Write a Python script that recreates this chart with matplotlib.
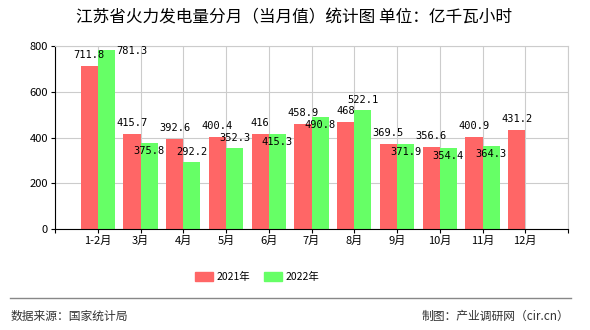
import numpy as np
import matplotlib
matplotlib.use("Agg")
from matplotlib import pyplot as plt
from matplotlib.patches import Patch

plt.rcParams['font.family'] = ['Noto Sans CJK SC', 'DejaVu Sans']

months = ['1-2月', '3月', '4月', '5月', '6月', '7月', '8月', '9月', '10月', '11月', '12月']
y2021 = [711.8, 415.7, 392.6, 400.4, 416, 458.9, 468, 369.5, 356.6, 400.9, 431.2]
y2022 = [781.3, 375.8, 292.2, 352.3, 415.3, 490.8, 522.1, 371.9, 354.4, 364.3]
# where the 2022 label sits relative to its bar
pos2022 = ['right', 'below', 'above', 'above', 'below', 'below', 'above', 'below', 'below', 'below']

red = '#FF6666'
green = '#66FF66'

fig = plt.figure(figsize=(5.9, 3.3), dpi=100)
ax = fig.add_axes([55/590, 1 - 229/330, 513/590, 183/330])

x = np.arange(1, len(months) + 1)
w = 0.4
ax.bar(x - w/2, y2021, w, color=red, zorder=2)
ax.bar(x[:len(y2022)] + w/2, y2022, w, color=green, zorder=2)

lblfont = dict(family='DejaVu Sans Mono', fontsize=7.5, color='black', zorder=3)
for xi, v in zip(x, y2021):
    ax.annotate('%g' % v, (xi - w/2, v), xytext=(0, 11), textcoords='offset pixels',
                ha='center', va='center', **lblfont)
for xi, v, p in zip(x, y2022, pos2022):
    if p == 'right':
        ax.annotate('%g' % v, (xi + w, v), xytext=(1, -1), textcoords='offset pixels',
                    ha='left', va='center', **lblfont)
    elif p == 'above':
        ax.annotate('%g' % v, (xi + w/2, v), xytext=(0, 10), textcoords='offset pixels',
                    ha='center', va='center', **lblfont)
    else:
        ax.annotate('%g' % v, (xi + w/2, v), xytext=(0, -8), textcoords='offset pixels',
                    ha='center', va='center', **lblfont)

ax.set_xlim(0, 12)
ax.set_ylim(0, 800)
ax.set_yticks([0, 200, 400, 600, 800])
ax.set_xticks(range(0, 13))
ax.set_xticklabels([''] + months + [''])
ax.tick_params(axis='both', labelsize=8, length=3, color='black', pad=2)
ax.grid(True, color='#cccccc', linewidth=0.8, zorder=0)
ax.set_axisbelow(True)
for s in ['top', 'right']:
    ax.spines[s].set_color('#cccccc')
for s in ['left', 'bottom']:
    ax.spines[s].set_color('black')

fig.text(294/590, 1 - 18/330, '江苏省火力发电量分月（当月值）统计图 单位：亿千瓦小时',
         ha='center', va='center', fontsize=12)

handles = [Patch(color=red, label='2021年'), Patch(color=green, label='2022年')]
fig.legend(handles=handles, loc='center', bbox_to_anchor=(257/590, 1 - 277/330), ncol=2,
           frameon=False, fontsize=7.5, handlelength=1.8, handleheight=0.9,
           handletextpad=0.3, columnspacing=1.3)

fig.add_artist(plt.Line2D([10/590, 571/590], [1 - 298/330, 1 - 298/330],
                          transform=fig.transFigure, color='#888888', linewidth=1))
fig.text(11/590, 1 - 316/330, '数据来源：国家统计局', ha='left', va='center',
         fontsize=8.5, color='#333333')
fig.text(569/590, 1 - 316/330, '制图：产业调研网（cir.cn）', ha='right', va='center',
         fontsize=8.5, color='#333333')

fig.savefig('out.png', dpi=100)
